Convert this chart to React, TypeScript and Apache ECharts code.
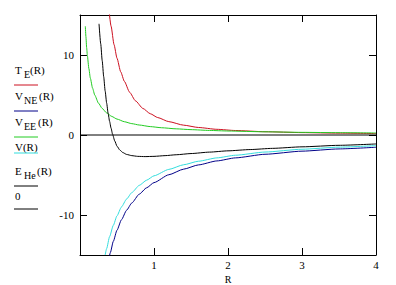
import React, { useEffect, useRef } from "react";
import * as echarts from "echarts";

// [R, value] pairs
const tE: number[][] = [
  [0.385, 16.2], [0.42, 13.6], [0.46, 11.3], [0.5, 9.6], [0.55, 7.9], [0.6, 6.7],
  [0.67, 5.35], [0.75, 4.27], [0.85, 3.32], [0.95, 2.66], [1.05, 2.18], [1.2, 1.67],
  [1.4, 1.23], [1.6, 0.94], [1.85, 0.71], [2.1, 0.56], [2.5, 0.41], [3.0, 0.3],
  [3.5, 0.23], [4.0, 0.18],
];
const vNE: number[][] = [
  [0.395, -15.3], [0.41, -14.7], [0.45, -13.3], [0.5, -11.9], [0.56, -10.6], [0.63, -9.4],
  [0.7, -8.5], [0.8, -7.4], [0.9, -6.6], [1.0, -5.95], [1.2, -4.97], [1.4, -4.27],
  [1.6, -3.74], [1.85, -3.24], [2.1, -2.86], [2.5, -2.41], [3.0, -2.02], [3.5, -1.74],
  [4.0, -1.53],
];
const vEE: number[][] = [
  [0.072, 13.6], [0.08, 12.3], [0.09, 10.9], [0.1, 9.9], [0.12, 8.3], [0.14, 7.1],
  [0.17, 5.85], [0.2, 4.98], [0.25, 3.98], [0.3, 3.32], [0.36, 2.76], [0.43, 2.32],
  [0.5, 1.99], [0.6, 1.66], [0.7, 1.42], [0.8, 1.25], [0.95, 1.05], [1.1, 0.91],
  [1.3, 0.77], [1.5, 0.67], [1.75, 0.57], [2.0, 0.5], [2.5, 0.4], [3.0, 0.33],
  [3.5, 0.29], [4.0, 0.25],
];
const vTot: number[][] = [
  [0.34, -15.0], [0.36, -14.2], [0.4, -12.7], [0.45, -11.3], [0.5, -10.1], [0.56, -9.0],
  [0.63, -8.0], [0.7, -7.2], [0.8, -6.3], [0.9, -5.65], [1.0, -5.1], [1.2, -4.3],
  [1.4, -3.72], [1.6, -3.28], [1.85, -2.86], [2.1, -2.53], [2.5, -2.13], [3.0, -1.78],
  [3.5, -1.52], [4.0, -1.33],
];
const eHe: number[][] = [
  [0.257, 13.9], [0.28, 11.4], [0.3, 9.3], [0.32, 7.3], [0.34, 5.5], [0.36, 4.0],
  [0.38, 2.7], [0.4, 1.7], [0.42, 0.85], [0.44, 0.1], [0.47, -0.75], [0.5, -1.4],
  [0.54, -1.9], [0.58, -2.2], [0.63, -2.43], [0.7, -2.58], [0.78, -2.67], [0.88, -2.7],
  [1.0, -2.67], [1.15, -2.58], [1.3, -2.47], [1.5, -2.32], [1.75, -2.14], [2.0, -1.98],
  [2.3, -1.82], [2.6, -1.67], [3.0, -1.48], [3.5, -1.29], [4.0, -1.12],
];
const zeroLine: number[][] = [[0, 0], [4, 0]];

const xTicks = [1, 2, 3];
const xLabels = [1, 2, 3, 4];
const yTicks = [-10, 0, 10];

const FONT = "Liberation Serif, Times New Roman, serif";

const colors = {
  tE: "#cc1020",
  vNE: "#000088",
  vEE: "#22cc22",
  vTot: "#33dddd",
  eHe: "#000000",
  zero: "#000000",
};

function legendItem(
  main: string,
  sub: string,
  rest: string,
  x: number,
  y: number,
  subX: number,
  restX: number,
  lineY: number,
  color: string
) {
  const els: any[] = [
    { type: "text", x, y, style: { text: main, fill: "#000", fontFamily: FONT, fontSize: 11, verticalAlign: "middle" } },
  ];
  if (sub) {
    els.push({ type: "text", x: subX, y: y + 4, style: { text: sub, fill: "#000", fontFamily: FONT, fontSize: 10, verticalAlign: "middle" } });
  }
  if (rest) {
    els.push({ type: "text", x: restX, y, style: { text: rest, fill: "#000", fontFamily: FONT, fontSize: 11, verticalAlign: "middle" } });
  }
  els.push({ type: "line", shape: { x1: 14, y1: lineY, x2: 38, y2: lineY }, style: { stroke: color, lineWidth: 1 } });
  return els;
}

export default function App() {
  const ref = useRef<HTMLDivElement>(null);
  useEffect(() => {
    if (!ref.current) return;
    const chart = echarts.init(ref.current, undefined, { renderer: "svg" });
    const axisCommon = {
      type: "value" as const,
      axisLine: { show: true, onZero: false, lineStyle: { color: "#000", width: 1 } },
      splitLine: { show: false },
    };
    const mkLine = (name: string, data: number[][], color: string) => ({
      name,
      type: "line",
      data,
      showSymbol: false,
      symbol: "none",
      smooth: 0.2,
      smoothMonotone: "x",
      clip: true,
      lineStyle: { color, width: 1 },
      itemStyle: { color },
    });
    chart.setOption({
      animation: false,
      backgroundColor: "#fff",
      grid: { left: 80, top: 15, width: 296, height: 240, containLabel: false, outerBoundsMode: "none" },
      xAxis: [
        {
          ...axisCommon,
          min: 0,
          max: 4,
          interval: 1,
          position: "bottom",
          axisTick: { show: true, inside: true, length: 7, customValues: xTicks, lineStyle: { color: "#000" } },
          axisLabel: { show: true, customValues: xLabels, color: "#000", fontFamily: FONT, fontSize: 11, margin: 4 },
          name: "R",
          nameLocation: "middle",
          nameGap: 17,
          nameTextStyle: { color: "#000", fontFamily: FONT, fontSize: 10 },
        },
        {
          ...axisCommon,
          min: 0,
          max: 4,
          interval: 1,
          position: "top",
          axisTick: { show: true, inside: true, length: 7, customValues: xTicks, lineStyle: { color: "#000" } },
          axisLabel: { show: false },
        },
      ],
      yAxis: [
        {
          ...axisCommon,
          min: -15,
          max: 15,
          interval: 5,
          position: "left",
          axisTick: { show: true, inside: true, length: 7, customValues: yTicks, lineStyle: { color: "#000" } },
          axisLabel: { show: true, customValues: yTicks, color: "#000", fontFamily: FONT, fontSize: 11, margin: 6 },
        },
        {
          ...axisCommon,
          min: -15,
          max: 15,
          interval: 5,
          position: "right",
          axisTick: { show: true, inside: true, length: 7, customValues: yTicks, lineStyle: { color: "#000" } },
          axisLabel: { show: false },
        },
      ],
      series: [
        mkLine("T_E(R)", tE, colors.tE),
        mkLine("V_NE(R)", vNE, colors.vNE),
        mkLine("V_EE(R)", vEE, colors.vEE),
        mkLine("V(R)", vTot, colors.vTot),
        mkLine("E_He(R)", eHe, colors.eHe),
        { ...mkLine("0", zeroLine, colors.zero), smooth: false },
      ],
      graphic: [
        ...legendItem("T", "E", "(R)", 15, 70, 24, 30, 85, colors.tE),
        ...legendItem("V", "NE", "(R)", 15, 96, 24, 39, 111, colors.vNE),
        ...legendItem("V", "EE", "(R)", 15, 122, 24, 38, 137, colors.vEE),
        ...legendItem("V(R)", "", "", 15, 147, 0, 0, 153, colors.vTot),
        ...legendItem("E", "He", "(R)", 15, 171, 24, 37, 186, colors.eHe),
        ...legendItem("0", "", "", 15, 196, 0, 0, 209, colors.zero),
      ],
    });
    return () => chart.dispose();
  }, []);
  return (
    <div
      ref={ref}
      style={{ position: "fixed", left: 0, top: 0, width: 396, height: 285, background: "#fff" }}
    />
  );
}
